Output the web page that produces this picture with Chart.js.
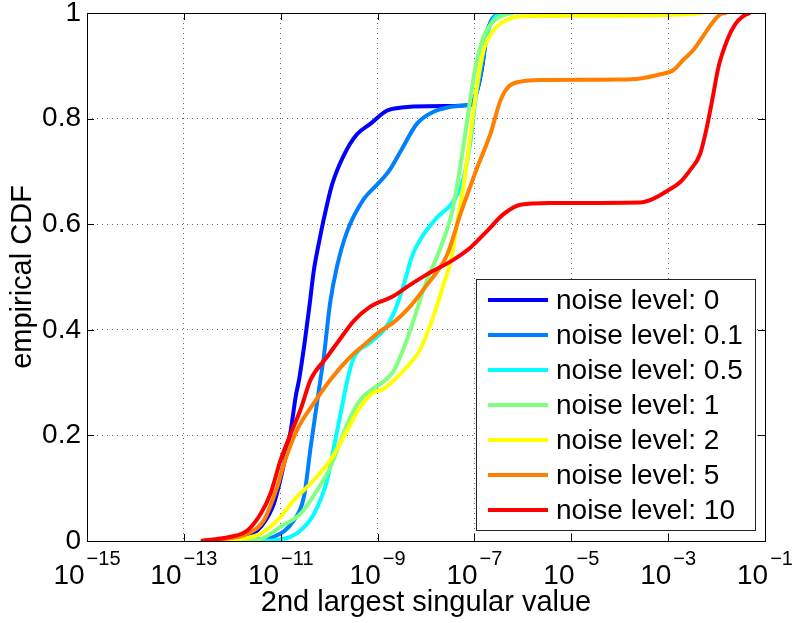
<!DOCTYPE html>
<html lang="en">
<head>
<meta charset="UTF-8">
<title>Empirical CDF of 2nd largest singular value</title>
<style>
    body { margin: 0; background: #fff; }
    canvas { display: block; }
</style>
</head>
<body>
<canvas id="cdfChart" width="792" height="623"></canvas>

<script src="https://cdn.jsdelivr.net/npm/chart.js"></script>
<script>
    // x values are stored as log10 of the singular value, y is the CDF
    const noiseLevels = ['0', '0.1', '0.5', '1', '2', '5', '10'];
    const xTickExponents = [-15, -13, -11, -9, -7, -5, -3, -1];
    const yTicks = [0, 0.2, 0.4, 0.6, 0.8, 1];

    const noise0X = [-12.3, -11.9, -11.6, -11.41, -11.14, -10.93, -10.79, -10.69, -10.62, -10.5, -10.4, -10.32, -10.2, -10.11, -9.94, -9.7, -9.43, -9.15, -8.81, -8.5, -8.26, -7.6, -7.08, -6.94, -6.84, -6.74, -6.64, -6.5];
    const noise0Y = [0, 0.003, 0.012, 0.027, 0.071, 0.147, 0.211, 0.274, 0.306, 0.38, 0.45, 0.51, 0.57, 0.61, 0.675, 0.73, 0.77, 0.79, 0.815, 0.821, 0.823, 0.824, 0.826, 0.854, 0.898, 0.962, 0.987, 1.0];

    const noise01X = [-11.9, -11.5, -11.14, -10.73, -10.52, -10.38, -10.28, -10.18, -10.11, -9.98, -9.84, -9.63, -9.29, -9.01, -8.77, -8.5, -8.19, -7.84, -7.56, -7.22, -7.08, -6.94, -6.84, -6.74, -6.64, -6.5];
    const noise01Y = [0, 0.003, 0.008, 0.039, 0.084, 0.179, 0.243, 0.306, 0.349, 0.451, 0.519, 0.586, 0.647, 0.675, 0.70, 0.742, 0.79, 0.813, 0.821, 0.825, 0.828, 0.856, 0.9, 0.962, 0.987, 1.0];

    const noise05X = [-11.6, -11.0, -10.59, -10.31, -10.04, -9.9, -9.76, -9.62, -9.5, -9.15, -8.84, -8.64, -8.46, -8.29, -8.09, -7.77, -7.43, -7.22, -7.08, -6.98, -6.84, -6.71, -6.53, -6.45];
    const noise05Y = [0, 0.003, 0.02, 0.052, 0.116, 0.179, 0.243, 0.306, 0.345, 0.376, 0.403, 0.437, 0.485, 0.539, 0.575, 0.613, 0.644, 0.689, 0.759, 0.835, 0.917, 0.968, 0.997, 1.0];

    const noise1X = [-11.9, -11.41, -11.0, -10.59, -10.24, -9.97, -9.62, -9.35, -9.1, -8.95, -8.67, -8.47, -8.26, -8.02, -7.71, -7.47, -7.33, -7.16, -6.99, -6.81, -6.6, -6.4, -6.2];
    const noise1Y = [0, 0.004, 0.027, 0.052, 0.097, 0.141, 0.223, 0.268, 0.288, 0.297, 0.322, 0.363, 0.417, 0.485, 0.553, 0.62, 0.688, 0.79, 0.892, 0.955, 0.985, 0.996, 1.0];

    const noise2X = [-12.24, -11.9, -11.41, -11.07, -10.73, -10.31, -9.97, -9.62, -9.35, -9.1, -8.9, -8.74, -8.4, -8.12, -7.88, -7.64, -7.49, -7.36, -7.22, -7.08, -6.94, -6.81, -6.6, -6.33, -6.05, -5.0, -4.0, -3.0, -2.5, -2.3];
    const noise2Y = [0, 0.003, 0.014, 0.039, 0.077, 0.116, 0.154, 0.211, 0.255, 0.28, 0.287, 0.298, 0.329, 0.363, 0.417, 0.485, 0.53, 0.6, 0.676, 0.771, 0.867, 0.93, 0.968, 0.987, 0.994, 0.995, 0.995, 0.996, 0.998, 1.0];

    const noise5X = [-12.52, -12.24, -11.69, -11.35, -11.07, -10.93, -10.66, -10.31, -9.97, -9.56, -9.22, -8.95, -8.67, -8.33, -7.98, -7.56, -7.29, -6.94, -6.67, -6.46, -6.3, -6.05, -5.6, -4.05, -3.58, -3.16, -2.89, -2.69, -2.48, -2.28, -2.09, -1.93, -1.8];
    const noise5Y = [0, 0.003, 0.014, 0.039, 0.103, 0.147, 0.211, 0.262, 0.306, 0.349, 0.376, 0.397, 0.414, 0.444, 0.485, 0.543, 0.619, 0.708, 0.771, 0.835, 0.86, 0.87, 0.873, 0.874, 0.876, 0.884, 0.892, 0.911, 0.93, 0.956, 0.981, 0.997, 1.0];

    const noise10X = [-12.65, -12.03, -11.69, -11.41, -11.21, -11.0, -10.79, -10.59, -10.38, -10.04, -9.77, -9.49, -9.15, -8.67, -8.33, -7.98, -7.43, -7.08, -6.74, -6.4, -6.05, -5.44, -3.58, -3.31, -3.02, -2.76, -2.55, -2.34, -2.2, -2.09, -1.96, -1.78, -1.62, -1.45, -1.31];
    const noise10Y = [0, 0.008, 0.02, 0.052, 0.09, 0.154, 0.204, 0.249, 0.306, 0.349, 0.383, 0.417, 0.444, 0.464, 0.485, 0.505, 0.533, 0.556, 0.587, 0.619, 0.637, 0.64, 0.641, 0.648, 0.663, 0.679, 0.702, 0.733, 0.784, 0.835, 0.898, 0.949, 0.978, 0.994, 1.0];

    const seriesX = [noise0X, noise01X, noise05X, noise1X, noise2X, noise5X, noise10X];
    const seriesY = [noise0Y, noise01Y, noise05Y, noise1Y, noise2Y, noise5Y, noise10Y];
    const lineColors = ['#0000ff', '#0080ff', '#00ffff', '#80ff80', '#ffff00', '#ff8000', '#ff0000'];

    const FONT = "'Liberation Sans', Arial, Helvetica, sans-serif";

    // box round the axes, with the ticks pointing inward like matlab
    const axesFrame = {
        id: 'axesFrame',
        afterDatasetsDraw(chart) {
            const {ctx, chartArea: a, scales: {x, y}} = chart;
            const t = 7;
            ctx.save();
            ctx.strokeStyle = '#000';
            ctx.lineWidth = 1;
            ctx.strokeRect(a.left + 0.5, a.top + 0.5, a.right - a.left, a.bottom - a.top);
            ctx.beginPath();
            y.ticks.forEach(tk => {
                const py = Math.round(y.getPixelForValue(tk.value)) + 0.5;
                ctx.moveTo(a.left, py); ctx.lineTo(a.left + t, py);
                ctx.moveTo(a.right, py); ctx.lineTo(a.right - t, py);
            });
            x.ticks.forEach(tk => {
                const px = Math.round(x.getPixelForValue(tk.value)) + 0.5;
                ctx.moveTo(px, a.bottom); ctx.lineTo(px, a.bottom - t);
                ctx.moveTo(px, a.top); ctx.lineTo(px, a.top + t);
            });
            ctx.stroke();
            ctx.restore();
        },
        afterDraw(chart) {
            const {ctx, chartArea: a, scales: {x}} = chart;
            ctx.save();
            ctx.fillStyle = '#000';
            ctx.textAlign = 'left';
            ctx.textBaseline = 'alphabetic';
            // x tick labels as 10 with a raised exponent
            x.ticks.forEach(tk => {
                const px = x.getPixelForValue(tk.value);
                const exp = '\u2212' + Math.abs(Math.round(Math.log10(tk.value)));
                ctx.font = '28px ' + FONT;
                const wb = ctx.measureText('10').width;
                ctx.font = '20px ' + FONT;
                const we = ctx.measureText(exp).width;
                const start = px - (wb + 2 + we) / 2;
                ctx.font = '28px ' + FONT;
                ctx.fillText('10', start, a.bottom + 43);
                ctx.font = '20px ' + FONT;
                ctx.fillText(exp, start + wb + 2, a.bottom + 24);
            });

            // legend box in the lower right corner
            const bx = a.right - 289, by = a.bottom - 262, bw = 279, bh = 251;
            ctx.fillStyle = '#fff';
            ctx.fillRect(bx, by, bw, bh);
            ctx.strokeStyle = '#222';
            ctx.lineWidth = 1;
            ctx.strokeRect(bx + 0.5, by + 0.5, bw, bh);
            ctx.font = '28px ' + FONT;
            ctx.textBaseline = 'middle';
            chart.data.datasets.forEach((ds, i) => {
                const ry = by + 21 + i * 35;
                ctx.strokeStyle = ds.borderColor;
                ctx.lineWidth = 4;
                ctx.beginPath();
                ctx.moveTo(bx + 12, ry);
                ctx.lineTo(bx + 72, ry);
                ctx.stroke();
                ctx.fillStyle = '#000';
                ctx.fillText(ds.label, bx + 80, ry + 1);
            });
            ctx.restore();
        }
    };

    const datasets = noiseLevels.map((lvl, i) => ({
        label: 'noise level: ' + lvl,
        data: seriesX[i].map((e, j) => ({x: Math.pow(10, e), y: seriesY[i][j]})),
        borderColor: lineColors[i],
        backgroundColor: lineColors[i],
        borderWidth: 4,
        pointRadius: 0,
        cubicInterpolationMode: 'monotone',
        order: noiseLevels.length - i  // later series drawn on top
    }));

    const chart = new Chart(document.getElementById('cdfChart'), {
        type: 'line',
        data: { datasets: datasets },
        options: {
            responsive: false,
            animation: false,
            devicePixelRatio: 1,
            layout: { padding: { left: 0, right: 27, top: 13, bottom: 0 } },
            plugins: {
                legend: { display: false },
                tooltip: { enabled: false }
            },
            scales: {
                x: {
                    type: 'logarithmic',
                    min: 1e-15,
                    max: 1e-1,
                    afterBuildTicks: s => { s.ticks = xTickExponents.map(e => ({ value: Math.pow(10, e) })); },
                    afterFit: s => { s.height = 82; s.paddingLeft = 0; s.paddingRight = 0; },
                    ticks: { display: false },
                    grid: { color: 'rgba(0,0,0,0.6)', lineWidth: 1, drawTicks: false },
                    border: { display: false, dash: [1, 4] },
                    title: {
                        display: true,
                        text: '2nd largest singular value',
                        color: '#000',
                        font: { family: FONT, size: 29 },
                        padding: { top: 0, bottom: 3 }
                    }
                },
                y: {
                    type: 'linear',
                    min: 0,
                    max: 1,
                    afterBuildTicks: s => { s.ticks = yTicks.map(v => ({ value: v })); },
                    afterFit: s => { s.width = 87; s.paddingTop = 0; s.paddingBottom = 0; },
                    ticks: {
                        color: '#000',
                        font: { family: FONT, size: 28 },
                        padding: 6,
                        callback: v => String(v)
                    },
                    grid: { color: 'rgba(0,0,0,0.6)', lineWidth: 1, drawTicks: false },
                    border: { display: false, dash: [1, 4] },
                    title: {
                        display: true,
                        text: 'empirical CDF',
                        color: '#000',
                        font: { family: FONT, size: 29 },
                        padding: { top: 6, bottom: 0 }
                    }
                }
            }
        },
        plugins: [axesFrame]
    });
</script>
</body>
</html>
